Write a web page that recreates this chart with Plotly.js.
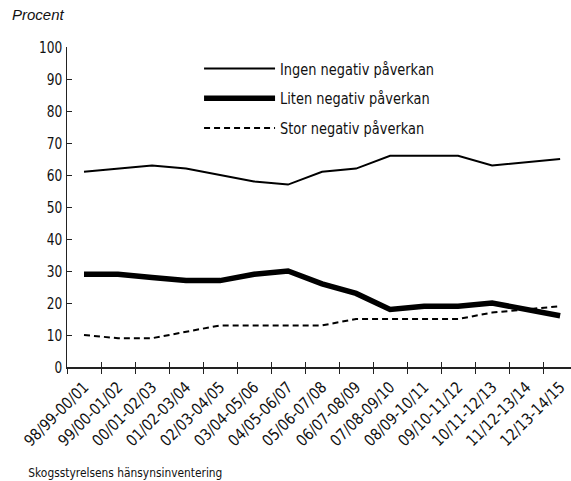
<!DOCTYPE html>
<html>
<head>
<meta charset="utf-8">
<script src="https://cdn.plot.ly/plotly-3.0.1.min.js"></script>
<style>
  body { margin: 0; background: #fff; }
  #chart { width: 571px; height: 481px; }
</style>
</head>
<body>
<div id="chart"></div>
<script>
const periods = ['98/99-00/01', '99/00-01/02', '00/01-02/03', '01/02-03/04', '02/03-04/05',
  '03/04-05/06', '04/05-06/07', '05/06-07/08', '06/07-08/09', '07/08-09/10',
  '08/09-10/11', '09/10-11/12', '10/11-12/13', '11/12-13/14', '12/13-14/15']
const ingen = [61, 62, 63, 62, 60, 58, 57, 61, 62, 66, 66, 66, 63, 64, 65]
const liten = [29, 29, 28, 27, 27, 29, 30, 26, 23, 18, 19, 19, 20, 18, 16]
const stor = [10, 9, 9, 11, 13, 13, 13, 13, 15, 15, 15, 15, 17, 18, 19]
const yTicks = [0, 10, 20, 30, 40, 50, 60, 70, 80, 90, 100]

const narrow = '"DejaVu Sans", sans-serif'
const source = 'Skogsstyrelsens hänsynsinventering'

const data = [
  { x: periods, y: ingen, name: 'Ingen negativ påverkan', legendgroup: 'a',
    mode: 'lines', type: 'scatter', line: { color: '#000', width: 2 } },
  { x: periods, y: liten, name: 'Liten negativ påverkan', legendgroup: 'b',
    mode: 'lines', type: 'scatter', line: { color: '#000', width: 5.5 } },
  { x: periods, y: stor, name: 'Stor negativ påverkan', legendgroup: 'c',
    mode: 'lines', type: 'scatter', line: { color: '#000', width: 2, dash: '6px,4px' } },
  // invisible trace on the overlay axis, only to get inside ticks
  { x: periods, y: stor, xaxis: 'x2', mode: 'lines', line: { width: 0 },
    showlegend: false, hoverinfo: 'skip' },
]

const layout = {
  width: 571,
  height: 481,
  margin: { l: 67, r: 0, t: 47, b: 114 },
  paper_bgcolor: '#fff',
  plot_bgcolor: '#fff',
  font: { family: narrow, size: 16, color: '#111' },
  showlegend: true,
  legend: {
    x: 0.262, y: 0.986, xanchor: 'left', yanchor: 'top',
    bgcolor: 'rgba(0,0,0,0)',
    itemwidth: 71,
    traceorder: 'grouped',
    tracegroupgap: 6,
    font: { family: narrow, size: 16, color: '#111' },
  },
  xaxis: {
    type: 'category',
    range: [-0.5, 14.32],
    showline: true, linecolor: '#222', linewidth: 1.5,
    ticks: 'outside', ticklen: 5, tickcolor: '#222', tickwidth: 1,
    tickson: 'boundaries',
    tickangle: -45,
    ticklabelstandoff: 3,
    tickfont: { family: narrow, size: 16, color: '#111' },
    showgrid: false, zeroline: false,
    fixedrange: true,
  },
  xaxis2: {
    type: 'category',
    overlaying: 'x',
    matches: 'x',
    range: [-0.5, 14.32],
    ticks: 'inside', ticklen: 5, tickcolor: '#222', tickwidth: 1,
    tickson: 'boundaries',
    showticklabels: false, showgrid: false, zeroline: false, showline: false,
  },
  yaxis: {
    range: [0, 100],
    tickvals: yTicks,
    showline: true, linecolor: '#222', linewidth: 1.5,
    ticks: 'inside', ticklen: 5, tickcolor: '#222',
    tickfont: { family: narrow, size: 16, color: '#111' },
    showgrid: false, zeroline: false,
  },
  annotations: [
    { text: 'Procent', xref: 'paper', yref: 'paper', x: -0.113, y: 1.1,
      xanchor: 'left', yanchor: 'middle', showarrow: false,
      font: { family: '"Liberation Sans", Arial, sans-serif', size: 15, style: 'italic', color: '#111' } },
    { text: source, xref: 'paper', yref: 'paper', x: -0.124, y: -0.33,
      xanchor: 'left', yanchor: 'middle', showarrow: false,
      font: { family: narrow, size: 13, color: '#111' } },
  ],
}

// squeeze the glyphs: the original uses a condensed face
function squeeze(t, factor) {
  if (t.getAttribute('lengthAdjust')) return
  const len = t.getComputedTextLength()
  t.setAttribute('textLength', (len * factor).toFixed(1))
  t.setAttribute('lengthAdjust', 'spacingAndGlyphs')
}

function condense(selector, factor) {
  document.querySelectorAll(selector).forEach((t) => squeeze(t, factor))
}

function condenseAll() {
  condense('#chart g.ytick text', 0.76)
  condense('#chart g.xtick text', 0.85)
  condense('#chart g.legend text.legendtext', 0.81)
  document.querySelectorAll('#chart text.annotation-text').forEach((t) => {
    if (t.textContent === source) squeeze(t, 0.82)
  })
}

Plotly.newPlot('chart', data, layout, { staticPlot: true }).then(() => {
  condenseAll()
  setTimeout(condenseAll, 50)
})
</script>
</body>
</html>
